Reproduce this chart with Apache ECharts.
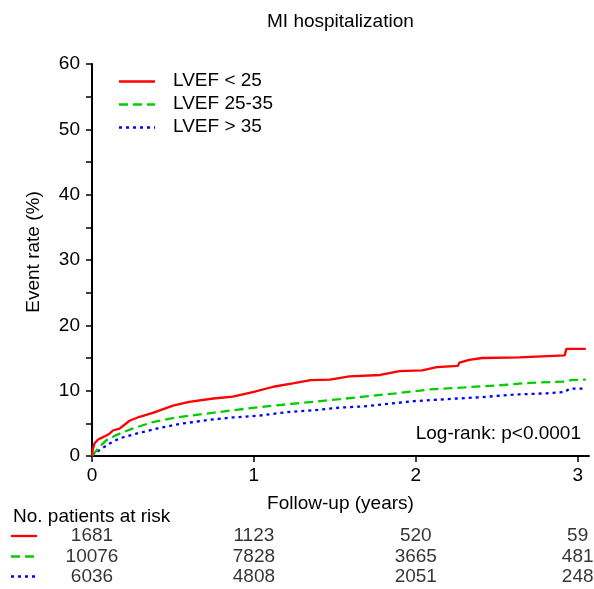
<!DOCTYPE html>
<html>
<head>
<meta charset="utf-8">
<script src="https://cdn.jsdelivr.net/npm/echarts@6/dist/echarts.min.js"></script>
<style>html,body{margin:0;padding:0;background:#fff}#c{width:594px;height:589px}</style>
</head>
<body>
<div id="c"></div>
<script>
var seriesNames = ['LVEF < 25', 'LVEF 25-35', 'LVEF > 35'];
var redT = [0, 0.005, 0.015, 0.036, 0.077, 0.108, 0.129, 0.17, 0.232, 0.294, 0.376, 0.5, 0.6, 0.75, 0.87, 1.0, 1.12, 1.24, 1.35, 1.47, 1.59, 1.78, 1.9, 2.04, 2.13, 2.26, 2.27, 2.33, 2.41, 2.64, 2.65, 2.92, 2.93, 3.05];
var redV = [0, 1.0, 1.9, 2.5, 3.0, 3.4, 3.9, 4.2, 5.4, 6.0, 6.6, 7.7, 8.3, 8.8, 9.1, 9.8, 10.6, 11.1, 11.6, 11.7, 12.2, 12.4, 13.0, 13.1, 13.6, 13.8, 14.3, 14.7, 15.0, 15.1, 15.4, 15.4, 16.4, 16.4];
var greenT = [0, 0.046, 0.088, 0.15, 0.25, 0.376, 0.52, 0.71, 0.87, 1.04, 1.2, 1.37, 1.53, 1.68, 1.88, 2.09, 2.3, 2.5, 2.71, 2.92, 2.96, 3.05];
var greenV = [0, 1.4, 2.4, 3.2, 4.2, 5.2, 5.9, 6.5, 7.0, 7.5, 7.9, 8.3, 8.7, 9.1, 9.6, 10.2, 10.5, 10.8, 11.2, 11.4, 11.6, 11.7];
var blueT = [0, 0.046, 0.108, 0.17, 0.27, 0.4, 0.54, 0.71, 0.87, 1.04, 1.2, 1.37, 1.53, 1.68, 1.8, 1.99, 2.19, 2.4, 2.61, 2.81, 2.92, 2.95, 3.05];
var blueV = [0, 0.9, 1.9, 2.7, 3.4, 4.2, 4.9, 5.5, 5.9, 6.2, 6.7, 7.0, 7.4, 7.6, 7.9, 8.4, 8.7, 9.0, 9.4, 9.6, 9.8, 10.3, 10.3];
var xTicks = [0, 1, 2, 3];
var yLabels = [0, 10, 20, 30, 40, 50, 60];
var yTicks = [0, 5, 10, 15, 20, 25, 30, 35, 40, 45, 50, 55, 60];
var riskTimes = [0, 1, 2, 3];
var riskRed = [1681, 1123, 520, 59];
var riskGreen = [10076, 7828, 3665, 481];
var riskBlue = [6036, 4808, 2051, 248];

var FONT = 'Liberation Sans';
var FONTSTR = '19px "' + FONT + '"';
var colors = ['#ff0000', '#00cc00', '#0000ff'];
var dashes = ['solid', [9, 5], [3, 4]];

function pairs(t, v) { return t.map(function (x, i) { return [x, v[i]]; }); }
var curves = [pairs(redT, redV), pairs(greenT, greenV), pairs(blueT, blueV)];
var riskRows = [riskRed, riskGreen, riskBlue];

var series = curves.map(function (d, i) {
  return {
    name: seriesNames[i], type: 'line', data: d, symbol: 'none', showSymbol: false,
    xAxisIndex: 0, yAxisIndex: 0, animation: false,
    lineStyle: { color: colors[i], width: 2.3, type: dashes[i] },
    itemStyle: { color: colors[i] }, z: 3 - i
  };
});
var riskData = [];
riskRows.forEach(function (row, r) {
  row.forEach(function (n, k) { riskData.push([riskTimes[k], r, n]); });
});
series.push({
  type: 'scatter', xAxisIndex: 1, yAxisIndex: 1, data: riskData, symbolSize: 0.001,
  animation: false, silent: true,
  label: { show: true, position: 'inside', formatter: function (p) { return String(p.value[2]); },
           color: '#000', fontFamily: FONT, fontSize: 19 }
});

var graphics = [
  { type: 'text', right: 594 - 581, top: 424, style: { text: 'Log-rank: p<0.0001', font: FONTSTR, fill: '#000' } },
  { type: 'text', left: 13, top: 507, style: { text: 'No. patients at risk', font: FONTSTR, fill: '#000' } }
];
function dashOf(i) { return dashes[i] === 'solid' ? null : dashes[i]; }
var rowY = [536, 556.5, 576.5];
rowY.forEach(function (y, i) {
  graphics.push({ type: 'line', shape: { x1: 11, y1: y, x2: 37, y2: y },
    style: { stroke: colors[i], lineWidth: 2.3, lineDash: dashOf(i) } });
});
var legY = [81.5, 104.5, 127.5];
legY.forEach(function (y, i) {
  graphics.push({ type: 'line', shape: { x1: 119, y1: y, x2: 155, y2: y },
    style: { stroke: colors[i], lineWidth: 2.3, lineDash: dashOf(i) } });
  graphics.push({ type: 'text', left: 173, top: y - 10,
    style: { text: seriesNames[i], font: FONTSTR, fill: '#000' } });
});

var chart = echarts.init(document.getElementById('c'), null, { renderer: 'canvas' });
chart.setOption({
  animation: false,
  backgroundColor: '#fff',
  textStyle: { fontFamily: FONT },
  title: { text: 'MI hospitalization', left: 262, top: 7,
           textStyle: { fontFamily: FONT, fontSize: 19, fontWeight: 'normal', color: '#000' } },
  grid: [
    { left: 92, top: 64, right: 5, bottom: 133 },
    { left: 92, top: 526, right: 5, height: 61 }
  ],
  xAxis: [
    { type: 'value', min: 0, max: 3.07, interval: 1, gridIndex: 0,
      name: 'Follow-up (years)', nameLocation: 'middle', nameGap: 38,
      nameTextStyle: { fontFamily: FONT, fontSize: 19, color: '#000' },
      axisLine: { show: true, lineStyle: { color: '#000', width: 2 } },
      axisTick: { show: true, length: 6, lineStyle: { color: '#000', width: 1.5 }, customValues: xTicks },
      axisLabel: { fontFamily: FONT, fontSize: 19, color: '#000', margin: 10, customValues: xTicks },
      splitLine: { show: false } },
    { type: 'value', min: 0, max: 3.07, gridIndex: 1, show: false }
  ],
  yAxis: [
    { type: 'value', min: 0, max: 60, interval: 5, gridIndex: 0,
      name: 'Event rate (%)', nameLocation: 'middle', nameGap: 49,
      nameTextStyle: { fontFamily: FONT, fontSize: 19, color: '#000', padding: [0, 0, 0, 16] },
      axisLine: { show: true, lineStyle: { color: '#000', width: 2 } },
      axisTick: { show: true, length: 6, lineStyle: { color: '#000', width: 1.5 }, customValues: yTicks },
      axisLabel: { fontFamily: FONT, fontSize: 19, color: '#000', margin: 12, customValues: yLabels },
      splitLine: { show: false } },
    { type: 'category', data: ['a', 'b', 'c'], inverse: true, gridIndex: 1, show: false }
  ],
  graphic: graphics,
  series: series
});
</script>
</body>
</html>
